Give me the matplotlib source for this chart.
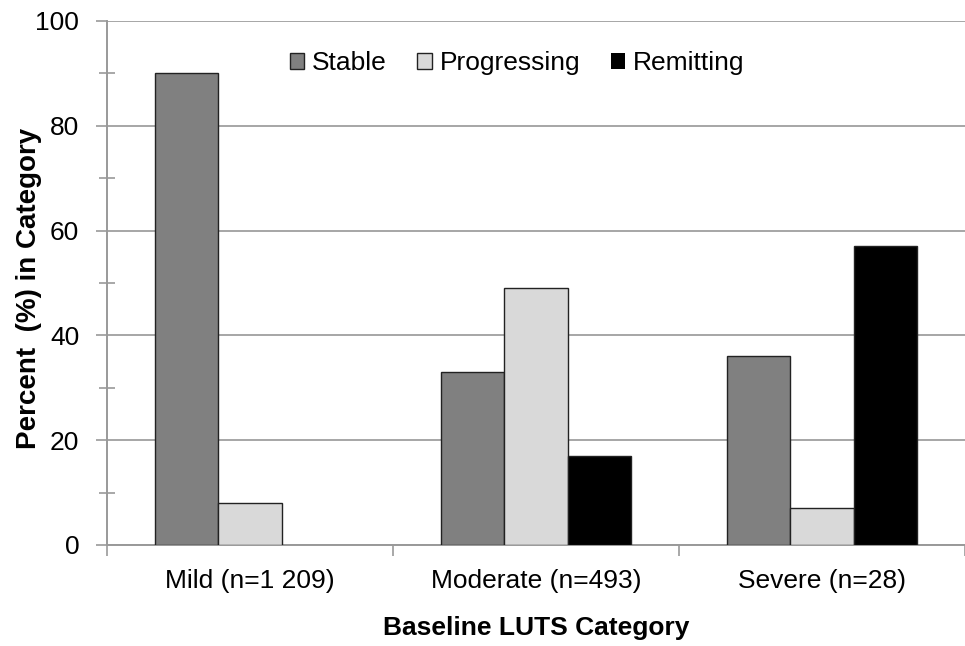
import matplotlib
matplotlib.use("Agg")
import matplotlib.pyplot as plt
import numpy as np
from matplotlib.ticker import MultipleLocator

categories = ["Mild (n=1 209)", "Moderate (n=493)", "Severe (n=28)"]
series = ["Stable", "Progressing", "Remitting"]
stable = [90, 33, 36]
progressing = [8, 49, 7]
remitting = [0, 17, 57]
colors = ["#808080", "#d9d9d9", "#000000"]

plt.rcParams.update({"font.family": ["Liberation Sans", "DejaVu Sans"], "font.size": 19})

fig = plt.figure(figsize=(9.65, 6.46), dpi=100)
ax = fig.add_axes([107 / 965, 101 / 646, 858 / 965, 524 / 646])

x = np.arange(len(categories))
w = 0.222
for i, (name, vals, c) in enumerate(zip(series, [stable, progressing, remitting], colors)):
    # Excel draws nothing for a zero bar, so drop the outline there
    lw = [1.0 if v > 0 else 0 for v in vals]
    ax.bar(x + (i - 1) * w, vals, w, color=c, edgecolor="#222222", linewidth=lw,
           label=name, zorder=3)

ax.set_xlim(-0.5, -0.5 + 858 / 289.5)
ax.set_ylim(0, 100)
ax.yaxis.set_major_locator(MultipleLocator(20))
ax.yaxis.set_minor_locator(MultipleLocator(10))
ax.set_xticks(x)
ax.set_xticklabels(categories)
ax.set_xticks(np.arange(-0.5, 3.0, 1.0), minor=True)
ax.tick_params(axis="x", which="major", length=0, pad=17)
ax.tick_params(axis="x", which="minor", length=8, color="#999999", direction="out", width=1.2)
ax.tick_params(axis="y", which="major", length=8, color="#999999", direction="out", width=1.2, pad=12)
ax.tick_params(axis="y", which="minor", length=12, color="#999999", direction="inout", width=1.2)
ax.grid(axis="y", which="major", color="#a6a6a6", linewidth=1.4, zorder=0)

for s in ["top", "right"]:
    ax.spines[s].set_visible(False)
for s in ["left", "bottom"]:
    ax.spines[s].set_color("#999999")
    ax.spines[s].set_linewidth(1.4)

ax.set_ylabel("Percent  (%) in Category", fontweight="bold", fontsize=20)
ax.yaxis.set_label_coords(-0.0758, 0.489)
ax.set_xlabel("Baseline LUTS Category", fontweight="bold", labelpad=17)

ax.legend(ncol=3, frameon=False, loc="center", bbox_to_anchor=(517 / 965, 1 - 63 / 646),
          bbox_transform=fig.transFigure, handlelength=0.55, handleheight=0.55,
          handletextpad=0.3, columnspacing=1.15)

fig.savefig("out.png", dpi=100)
